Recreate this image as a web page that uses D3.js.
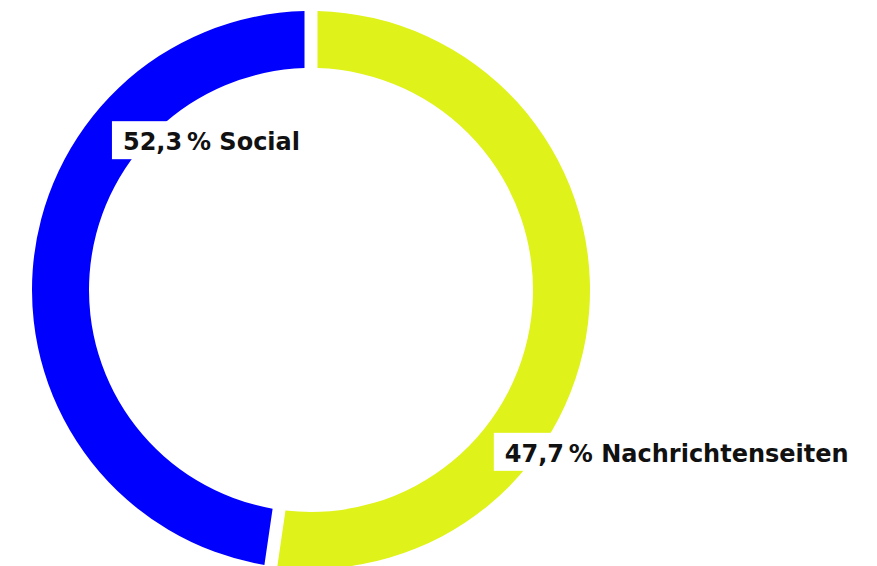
<!DOCTYPE html>
<html>
<head>
<meta charset="utf-8">
<script src="https://cdn.jsdelivr.net/npm/d3@7"></script>
<style>
  html, body { margin: 0; padding: 0; background: #fff; }
  svg { display: block; }
  .label text { font-family: "DejaVu Sans", sans-serif; font-weight: 700; font-size: 24px; fill: #111; }
</style>
</head>
<body>
<div id="chart"></div>
<script>
// data: ring slices as drawn (clockwise from the top)
const sliceNames = ['Nachrichtenseiten', 'Social'];
const sliceValues = [52.3, 47.7];
const sliceColors = ['#dff21a', '#0000ff'];

// label texts as printed on the chart
const labelNames = ['Nachrichtenseiten', 'Social'];
const labelValues = [47.7, 52.3];

const width = 877, height = 566;
const cx = 311, cy = 290;
const outerR = 279, innerR = 222;
const gap = 13;

// label anchors: angle (deg, clockwise from top) and radius for the top-left of each box
const labelPos = { 'Nachrichtenseiten': [128, 232], 'Social': [310.3, 261] };

const fmt = v => d3.format('.1f')(v).replace('.', ',') + '\u2009%';

const svg = d3.select('#chart').append('svg')
	.attr('width', width)
	.attr('height', height);

const pie = d3.pie().sort(null).value(d => d.value);
const data = pie(sliceNames.map((c, i) => ({ name: c, value: sliceValues[i], color: sliceColors[i] })));

const arc = d3.arc()
	.innerRadius(innerR)
	.outerRadius(outerR)
	.padRadius(outerR)
	.padAngle(gap / outerR);

const g = svg.append('g').attr('transform', 'translate(' + cx + ',' + cy + ')');

g.selectAll('path')
	.data(data)
	.enter().append('path')
	.attr('fill', d => d.data.color)
	.attr('d', arc);

// labels with white boxes
const labels = labelNames.map((n, i) => ({ name: n, value: labelValues[i] }));

const lg = g.selectAll('.label')
	.data(labels)
	.enter().append('g')
	.attr('class', 'label')
	.attr('transform', d => {
		const p = labelPos[d.name];
		const a = p[0] * Math.PI / 180;
		return 'translate(' + (Math.sin(a) * p[1]) + ',' + (-Math.cos(a) * p[1]) + ')';
	});

lg.append('rect').attr('fill', '#fff');
const texts = lg.append('text')
	.attr('x', 11)
	.attr('y', 29)
	.text(d => fmt(d.value) + ' ' + d.name);

texts.each(function () {
	const bb = this.getBBox();
	d3.select(this.parentNode).select('rect')
		.attr('x', 0)
		.attr('y', 0)
		.attr('width', bb.width + 22)
		.attr('height', 38);
});
</script>
</body>
</html>
